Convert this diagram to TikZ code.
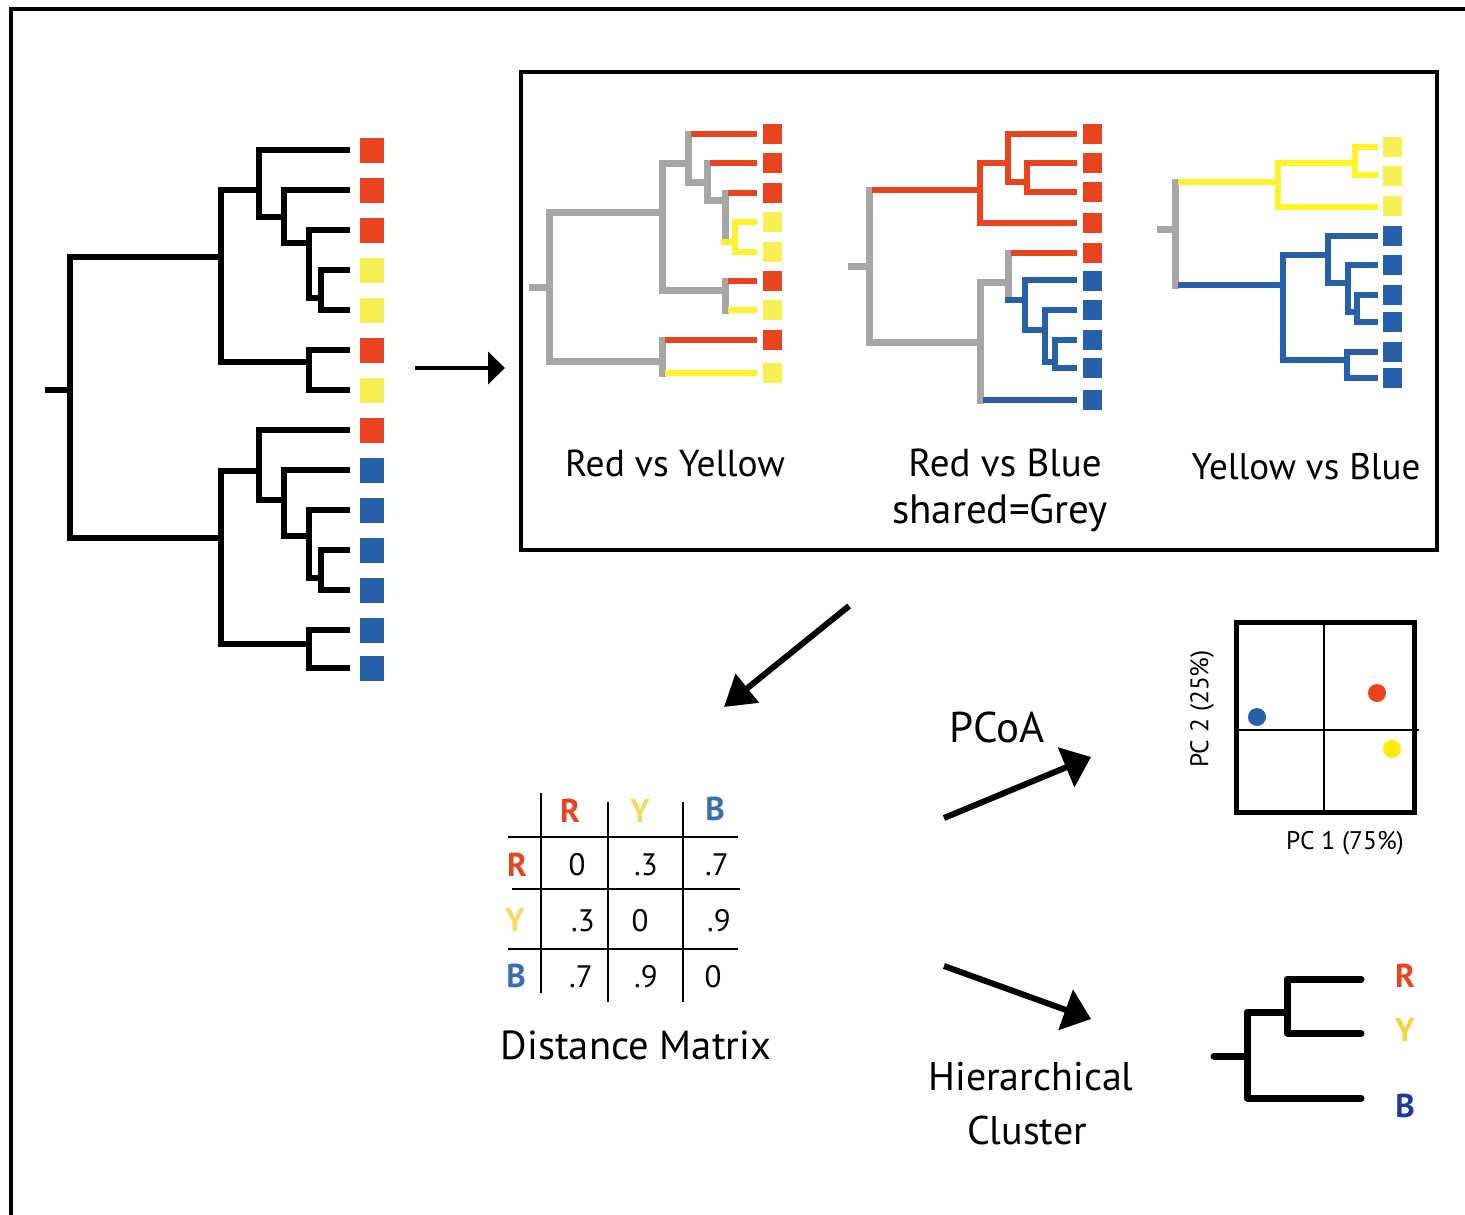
\documentclass[tikz,border=0pt]{standalone}
\usepackage{fontspec}
\setmainfont{PT Sans}
\usetikzlibrary{arrows.meta}
\definecolor{cR}{HTML}{E8441F}
\definecolor{cY}{HTML}{F7F055}
\definecolor{cYL}{HTML}{FFF22A}
\definecolor{cB}{HTML}{2560A8}
\definecolor{cG}{HTML}{A6A6A6}
\definecolor{mY}{HTML}{F3DB63}
\definecolor{mB}{HTML}{3C6DB0}
\definecolor{kY}{HTML}{F5D53A}
\definecolor{kB}{HTML}{1F3B9A}
\tikzset{
  bk/.style={line width=6pt,black,line join=miter},
  gr/.style={line width=7pt,cG,line join=miter},
  grv/.style={line width=7pt,cG,line cap=rect},
  rd/.style={line width=6pt,cR,line join=miter},
  yl/.style={line width=6pt,cYL,line join=miter},
  bl/.style={line width=6pt,cB,line join=miter},
  bigsq/.style={minimum width=24pt,minimum height=25pt,inner sep=0pt,draw=none},
  smsq/.style={minimum width=19pt,minimum height=20pt,inner sep=0pt,draw=none},
  lab/.style={font=\fontsize{#1}{#1}\selectfont,align=center},
  lab/.default=37,
  mtx/.style={font=\fontsize{31}{36}\selectfont},
  mhd/.style={font=\fontsize{33}{38}\selectfont\bfseries},
  pcl/.style={font=\fontsize{25.5}{30}\selectfont},
}
\begin{document}
\begin{tikzpicture}[x=1pt,y=-1pt]
\useasboundingbox (0,0) rectangle (1465,1215);
% outer frame
\draw[line width=4pt] (11,1225) -- (11,9) -- (1475,9);

% ---------- big tree ----------
\draw[bk] (45,390) -- (70,390);
\draw[bk] (221,257) -- (70,257) -- (70,538) -- (221,538);
% top clade
\draw[bk] (259,190) -- (221,190) -- (221,362) -- (309,362);
\draw[bk] (350,150) -- (259,150) -- (259,217) -- (284,217);
\draw[bk] (350,190) -- (284,190) -- (284,243) -- (309,243);
\draw[bk] (350,230) -- (309,230) -- (309,298) -- (321,298);
\draw[bk] (350,270) -- (321,270) -- (321,310) -- (350,310);
\draw[bk] (350,350) -- (309,350) -- (309,390) -- (350,390);
% bottom clade
\draw[bk] (259,471) -- (221,471) -- (221,644) -- (309,644);
\draw[bk] (350,430) -- (259,430) -- (259,500) -- (284,500);
\draw[bk] (350,470) -- (284,470) -- (284,536) -- (309,536);
\draw[bk] (350,510) -- (309,510) -- (309,578) -- (321,578);
\draw[bk] (350,550) -- (321,550) -- (321,590) -- (350,590);
\draw[bk] (350,630) -- (309,630) -- (309,668) -- (350,668);
% squares
\foreach \y/\c [count=\i] in {150/cR,190/cR,230/cR,270/cY,310/cY,350/cR,390/cY,430/cR,470/cB,510/cB,550/cB,590/cB,630/cB,668/cB}
  \node[bigsq,fill=\c] (L\i) at (372,\y) {};

% arrow to box
\coordinate (a1s) at (415,368);
\coordinate (a1e) at (505,368);
\draw[line width=4pt,-{Triangle[length=17pt,width=32pt]}] (a1s) -- (a1e);

% ---------- box ----------
\draw[line width=4pt] (521,72) rectangle (1437,550);

% ---------- tree 1: Red vs Yellow ----------
\draw[gr] (529,287) -- (549,287);
\draw[gr] (662,212) -- (549,212) -- (549,361) -- (662,361);
\draw[grv] (662,163) -- (662,290);
\draw[gr] (662,163) -- (688,163);
\draw[gr] (662,290) -- (725,290);
\draw[grv] (688,134) -- (688,182);
\draw[gr] (688,182) -- (707,182);
\draw[grv] (707,163) -- (707,200);
\draw[gr] (707,200) -- (725,200);
\draw[grv] (725,193) -- (725,238);
\draw[grv] (725,281) -- (725,310);
\draw[grv] (662,340) -- (662,373);
\draw[rd] (691,134) -- (757,134);
\draw[rd] (710,163) -- (757,163);
\draw[rd] (728,193) -- (757,193);
\draw[yl] (721,242) -- (735,242);
\draw[yl] (757,222) -- (735,222) -- (735,252) -- (757,252);
\draw[rd] (728,281) -- (757,281);
\draw[yl] (728,310) -- (757,310);
\draw[rd] (665,340) -- (757,340);
\draw[yl] (665,373) -- (757,373);
\foreach \y/\c [count=\i] in {134/cR,163/cR,193/cR,222/cY,252/cY,281/cR,310/cY,340/cR,373/cY}
  \node[smsq,fill=\c] (P\i) at (772,\y) {};

% ---------- tree 2: Red vs Blue ----------
\draw[gr] (848,266) -- (869,266);
\draw[grv] (869,190) -- (869,342);
\draw[gr] (869,342) -- (980,342);
\draw[rd] (872,190) -- (980,190);
\draw[rd] (1008,163) -- (980,163) -- (980,223) -- (1077,223);
\draw[rd] (1077,134) -- (1008,134) -- (1008,182) -- (1027,182);
\draw[rd] (1077,163) -- (1027,163) -- (1027,192) -- (1077,192);
\draw[grv] (980,282) -- (980,400);
\draw[gr] (980,282) -- (1008,282);
\draw[grv] (1008,253) -- (1008,298);
\draw[rd] (1011,253) -- (1077,253);
\draw[bl] (1005,300) -- (1025,300);
\draw[bl] (1077,280) -- (1025,280) -- (1025,330) -- (1045,330);
\draw[bl] (1077,310) -- (1045,310) -- (1045,362) -- (1055,362);
\draw[bl] (1077,340) -- (1055,340) -- (1055,368) -- (1077,368);
\draw[bl] (983,400) -- (1077,400);
\foreach \y/\c [count=\i] in {134/cR,163/cR,192/cR,223/cR,253/cR,281/cB,310/cB,340/cB,368/cB,400/cB}
  \node[smsq,fill=\c] (Q\i) at (1092,\y) {};

% ---------- tree 3: Yellow vs Blue ----------
\draw[gr] (1157,229) -- (1175,229);
\draw[grv] (1175,182) -- (1175,285);
\draw[yl] (1178,182) -- (1278,182);
\draw[yl] (1355,163) -- (1278,163) -- (1278,207) -- (1378,207);
\draw[yl] (1378,147) -- (1355,147) -- (1355,175) -- (1378,175);
\draw[bl] (1178,285) -- (1283,285);
\draw[bl] (1328,255) -- (1283,255) -- (1283,360) -- (1347,360);
\draw[bl] (1378,236) -- (1328,236) -- (1328,283) -- (1348,283);
\draw[bl] (1378,265) -- (1348,265) -- (1348,312) -- (1357,312);
\draw[bl] (1378,295) -- (1357,295) -- (1357,322) -- (1378,322);
\draw[bl] (1378,352) -- (1347,352) -- (1347,378) -- (1378,378);
\foreach \y/\c [count=\i] in {147/cY,176/cY,206/cY,236/cB,265/cB,295/cB,322/cB,352/cB,378/cB}
  \node[smsq,fill=\c] (S\i) at (1392,\y) {};

% labels in box
\node[lab=37.5] (t1) at (675,463) {Red vs Yellow};
\node[lab=39] (t2) at (1005,463) {Red vs Blue};
\node[lab=41] (t2b) at (1000,513) {shared=Grey};
\node[lab=37] (t3) at (1306,467) {Yellow vs Blue};

% arrow to matrix
\coordinate (a2s) at (849,606);
\coordinate (a2e) at (724,707);
\draw[line width=6pt,-{Triangle[length=30pt,width=36pt]}] (a2s) -- (a2e);

% ---------- distance matrix ----------
\draw[line width=2pt] (541,793) -- (541,993);
\draw[line width=2pt] (608,802) -- (608,1002);
\draw[line width=2pt] (683,802) -- (683,1002);
\draw[line width=2pt] (508,837) -- (738,837);
\draw[line width=2pt] (512,889) -- (740,889);
\draw[line width=2pt] (508,949) -- (738,949);
\node[mhd,text=cR] (hR) at (570,811) {R};
\node[mhd,text=mY] (hY) at (640,811) {Y};
\node[mhd,text=mB] (hB) at (715,809) {B};
\node[mhd,text=cR] (rR) at (517,865) {R};
\node[mhd,text=mY] (rY) at (515,920) {Y};
\node[mhd,text=mB] (rB) at (516,976) {B};
\node[mtx] (v11) at (577,865) {0};
\node[mtx] (v12) at (646,865) {.3};
\node[mtx] (v13) at (717,865) {.7};
\node[mtx] (v21) at (583,921) {.3};
\node[mtx] (v22) at (640,921) {0};
\node[mtx] (v23) at (719,921) {.9};
\node[mtx] (v31) at (581,977) {.7};
\node[mtx] (v32) at (646,977) {.9};
\node[mtx] (v33) at (713,977) {0};
\node[lab=40.5] (dm) at (636,1045) {Distance Matrix};

% ---------- PCoA ----------
\node[lab=43] (pcoa) at (997,727) {PCoA};
\coordinate (a3s) at (944,818);
\coordinate (a3e) at (1091,757);
\draw[line width=6pt,-{Triangle[length=27pt,width=42pt]}] (a3s) -- (a3e);
\draw[line width=1.8pt] (1324,622) -- (1324,813);
\draw[line width=1.8pt] (1234,730) -- (1419,730);
\draw[line width=5pt] (1236,622) rectangle (1414,812);
\fill[cR] (1377,693) circle (9);
\fill[cB] (1257,717) circle (9);
\fill[yellow!95!orange] (1392,749) circle (9);
\node[pcl,rotate=90] (pc2) at (1202,709) {PC 2 (25\%)};
\node[pcl] (pc1) at (1345,843) {PC 1 (75\%)};

% ---------- hierarchical ----------
\coordinate (a4s) at (944,966);
\coordinate (a4e) at (1091,1019);
\draw[line width=6pt,-{Triangle[length=27pt,width=42pt]}] (a4s) -- (a4e);
\node[lab=40] (hc1) at (1031,1077) {Hierarchical};
\node[lab=40] (hc2) at (1027,1130) {Cluster};
\draw[line width=7pt,line cap=round] (1214,1056) -- (1247,1056);
\draw[line width=7pt,line cap=round,line join=round] (1287,1012) -- (1247,1012) -- (1247,1098) -- (1361,1098);
\draw[line width=7pt,line cap=round,line join=round] (1361,979) -- (1287,979) -- (1287,1033) -- (1361,1033);
\node[mhd,text=cR] (kR) at (1405,976) {R};
\node[mhd,text=kY] (kY) at (1405,1030) {Y};
\node[mhd,text=kB] (kB) at (1405,1106) {B};
\end{tikzpicture}
\end{document}
